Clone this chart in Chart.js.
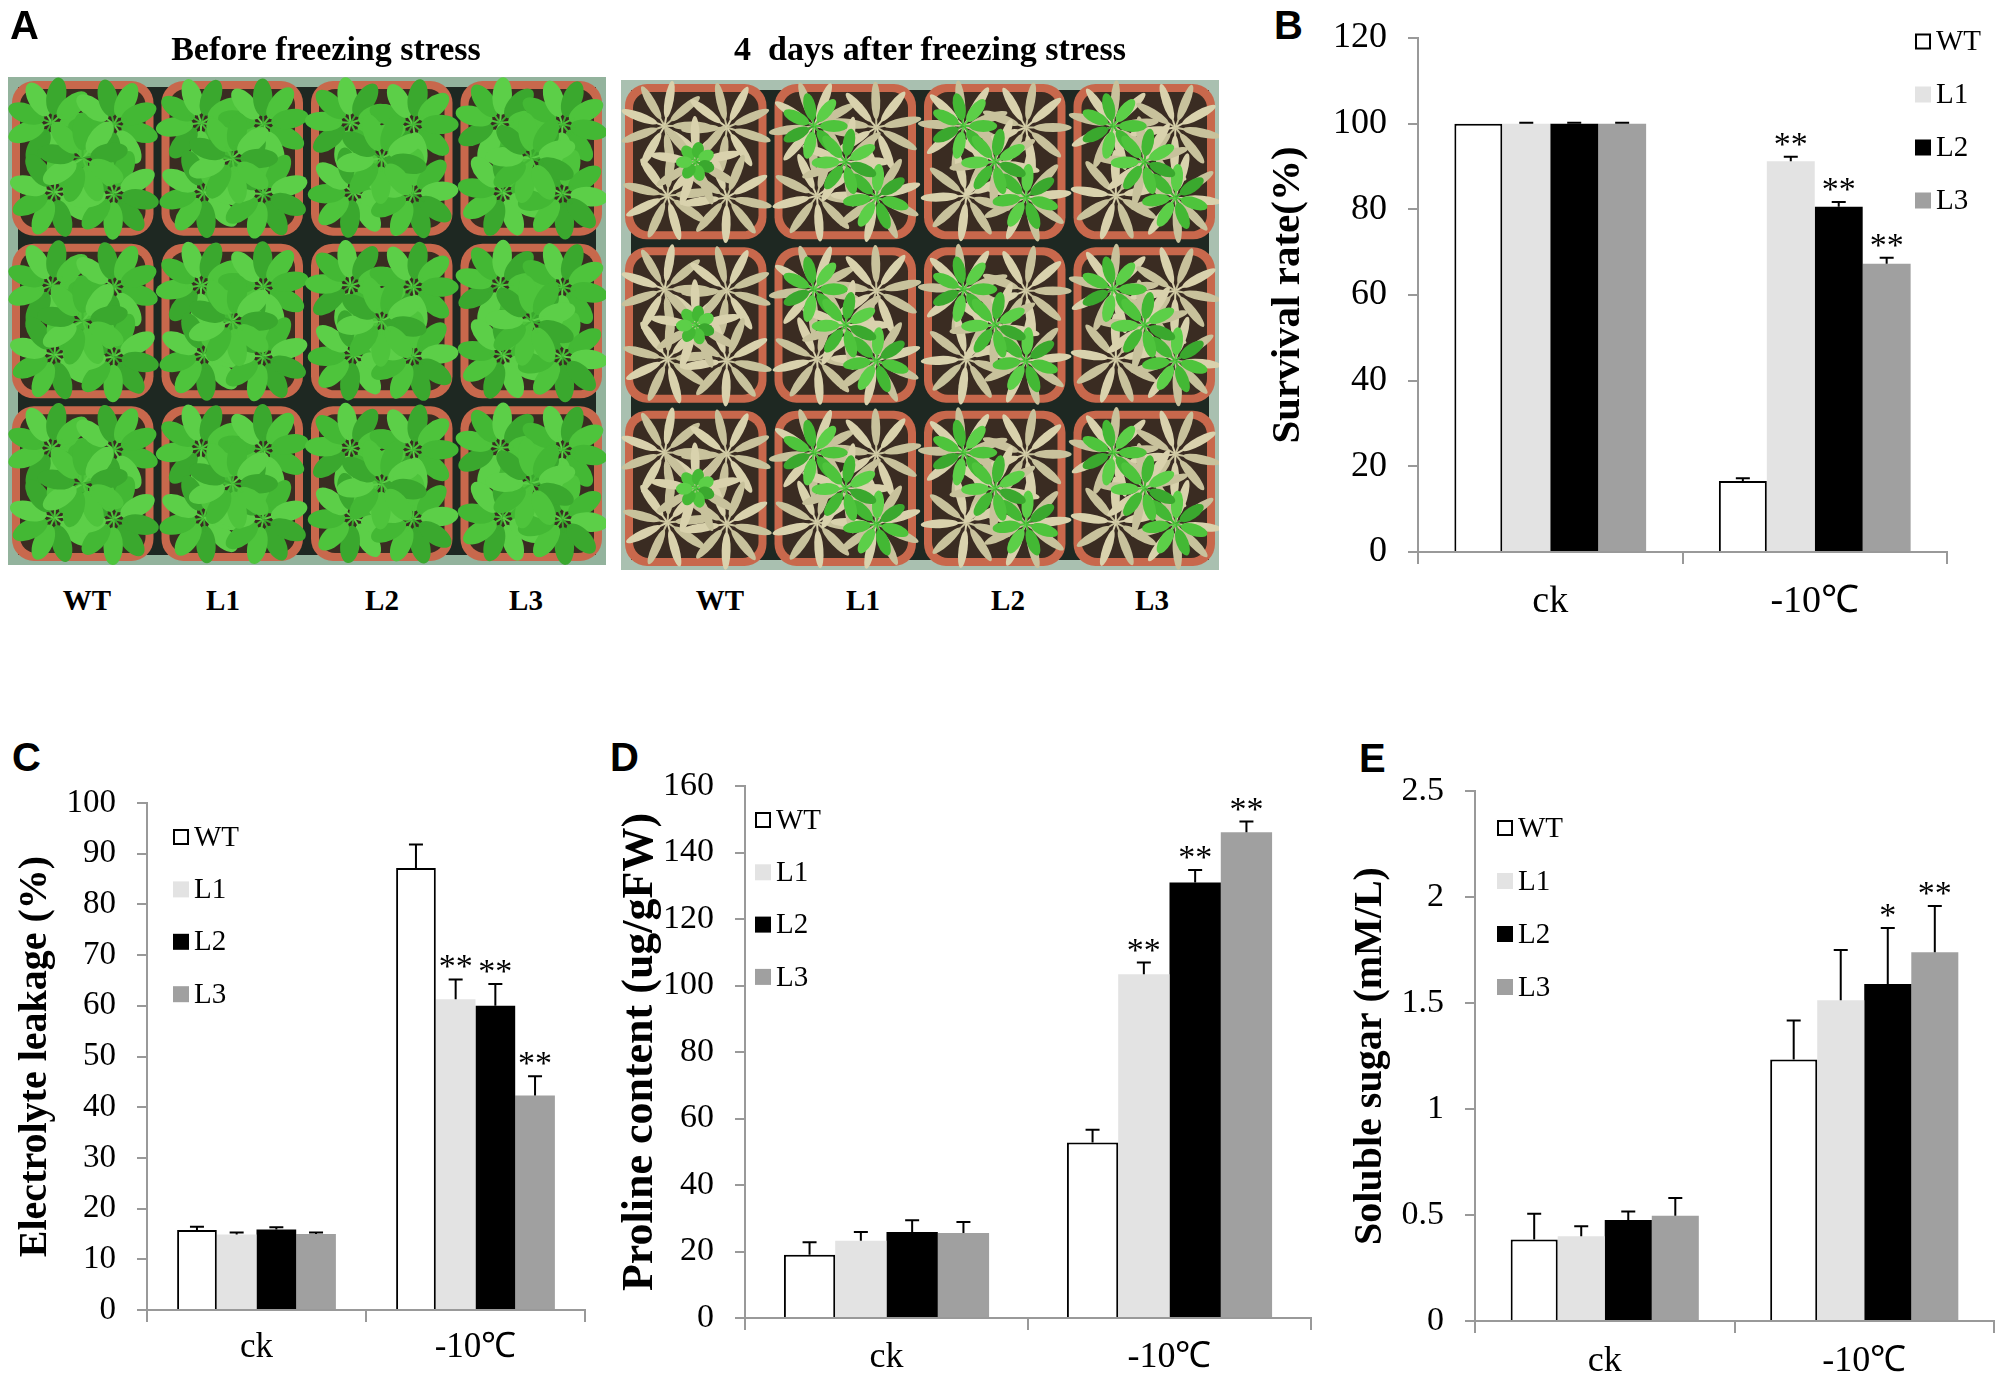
<!DOCTYPE html>
<html>
<head>
<meta charset="utf-8">
<script src="https://cdn.jsdelivr.net/npm/chart.js@4.4.1/dist/chart.umd.min.js"></script>
<style>
    body { margin: 0; width: 2000px; height: 1383px; background: #fff; position: relative; overflow: hidden; }
    .txt { position: absolute; white-space: pre; line-height: 1; color: #000; }
    .serif { font-family: 'Liberation Serif', 'Times New Roman', serif; font-weight: bold; }
    .letter { font-family: 'Liberation Sans', Arial, sans-serif; font-weight: bold; font-size: 40px; }
</style>
</head>
<body>
<canvas id="photos" width="1230" height="580" style="position:absolute;left:0;top:0;"></canvas>

<div class="txt letter" style="left:10px;top:5px;">A</div>
<div class="txt letter" style="left:1274px;top:5px;">B</div>
<div class="txt letter" style="left:12px;top:737px;">C</div>
<div class="txt letter" style="left:610px;top:737px;">D</div>
<div class="txt letter" style="left:1359px;top:738px;">E</div>

<div class="txt serif" style="left:26px;width:600px;text-align:center;top:32px;font-size:34px;">Before freezing stress</div>
<div class="txt serif" style="left:630px;width:600px;text-align:center;top:32px;font-size:34px;">4  days after freezing stress</div>
<div id="photoLabels"></div>

<script>
// ===============================
// DATA
// ===============================
const groups = ["ck", "-10℃"];
const lines = ["WT", "L1", "L2", "L3"];

// B - survival rate (%)
const survWT = [100, 16.6];
const survL1 = [100, 91.2];
const survL2 = [100, 80.6];
const survL3 = [100, 67.3];
const survErrWT = [0, 0.6];
const survErrL1 = [0.2, 1.1];
const survErrL2 = [0.2, 1.1];
const survErrL3 = [0.2, 1.4];
const survStars = ["", "**", "**", "**"];

// C - electrolyte leakage (%)
const elWT = [15.8, 87.2];
const elL1 = [14.9, 61.3];
const elL2 = [15.9, 60.0];
const elL3 = [15.0, 42.3];
const elErrWT = [0.6, 4.6];
const elErrL1 = [0.4, 3.9];
const elErrL2 = [0.4, 4.3];
const elErrL3 = [0.3, 3.8];
const elStars = ["", "**", "**", "**"];

// D - proline content (ug/gFW)
const prWT = [19.0, 52.8];
const prL1 = [23.2, 103.4];
const prL2 = [25.9, 131.0];
const prL3 = [25.6, 146.1];
const prErrWT = [3.8, 3.8];
const prErrL1 = [2.7, 3.5];
const prErrL2 = [3.5, 3.7];
const prErrL3 = [3.3, 3.2];
const prStars = ["", "**", "**", "**"];

// E - soluble sugar (mM/L)
const suWT = [0.384, 1.234];
const suL1 = [0.40, 1.513];
const suL2 = [0.476, 1.59];
const suL3 = [0.496, 1.739];
const suErrWT = [0.122, 0.183];
const suErrL1 = [0.047, 0.237];
const suErrL2 = [0.04, 0.264];
const suErrL3 = [0.084, 0.219];
const suStars = ["", "", "*", "**"];

// ===============================
// STYLE
// ===============================
const SERIF = "'Liberation Serif', 'Times New Roman', serif";
const lineFill = ["#ffffff", "#e3e3e3", "#000000", "#a0a0a0"];
const AXIS_GREY = "#999999";
const PAD_TOP = 45;
const X_AXIS_H = 90;

Chart.defaults.font.family = SERIF;
Chart.defaults.color = "#000";

// ===============================
// PLUGINS
// ===============================
const barExtras = {
    id: "barExtras",
    afterDatasetsDraw(chart, args, opts) {
        const ctx = chart.ctx;
        const yScale = chart.scales.y;
        chart.data.datasets.forEach((ds, i) => {
            const meta = chart.getDatasetMeta(i);
            meta.data.forEach((bar, j) => {
                const err = opts.errors[i][j];
                const capY = yScale.getPixelForValue(ds.data[j] + err);
                ctx.save();
                ctx.strokeStyle = "#000";
                ctx.lineWidth = 2;
                if (err > 0) {
                    ctx.beginPath();
                    ctx.moveTo(bar.x, bar.y);
                    ctx.lineTo(bar.x, capY);
                    ctx.moveTo(bar.x - 7, capY);
                    ctx.lineTo(bar.x + 7, capY);
                    ctx.stroke();
                }
                const star = j === 1 ? opts.stars[i] : "";
                if (star) {
                    ctx.fillStyle = "#000";
                    ctx.font = "34px " + SERIF;
                    ctx.textAlign = "center";
                    ctx.textBaseline = "alphabetic";
                    ctx.fillText(star, bar.x, capY - 2);
                }
                ctx.restore();
            });
        });
    }
};

const boxLegend = {
    id: "boxLegend",
    afterDraw(chart, args, opts) {
        const ctx = chart.ctx;
        ctx.save();
        ctx.font = opts.size + "px " + SERIF;
        ctx.textBaseline = "middle";
        ctx.textAlign = "left";
        chart.data.datasets.forEach((ds, i) => {
            const cy = opts.y + i * opts.gap;
            const b = opts.box;
            ctx.fillStyle = ds.backgroundColor;
            ctx.fillRect(opts.x, cy - b / 2, b, b);
            if (i === 0) {
                ctx.strokeStyle = "#000";
                ctx.lineWidth = 2;
                ctx.strokeRect(opts.x + 1, cy - b / 2 + 1, b - 2, b - 2);
            }
            ctx.fillStyle = "#000";
            ctx.fillText(ds.label, opts.x + b + 5, cy + 1);
        });
        ctx.restore();
    }
};

// ===============================
// PANEL BUILDER
// ===============================
function buildPanel(p) {
    const left = p.axisX - p.yAxisW;
    const top = p.yTop - PAD_TOP;
    const width = p.yAxisW + (p.xEnd - p.axisX) + p.padRight;
    const height = PAD_TOP + (p.y0 - p.yTop) + X_AXIS_H;

    const canvas = document.createElement("canvas");
    canvas.width = width;
    canvas.height = height;
    canvas.style.cssText = `position:absolute;left:${left}px;top:${top}px;width:${width}px;height:${height}px;`;
    document.body.appendChild(canvas);

    const datasets = p.series.map((values, i) => ({
        label: lines[i],
        data: values,
        backgroundColor: lineFill[i],
        borderColor: "#000",
        borderWidth: i === 0 ? 2 : 0,
        barPercentage: 1,
        categoryPercentage: 0.725
    }));

    new Chart(canvas, {
        type: "bar",
        data: { labels: groups, datasets: datasets },
        plugins: [barExtras, boxLegend],
        options: {
            responsive: false,
            animation: false,
            devicePixelRatio: 1,
            layout: { padding: { top: PAD_TOP, right: p.padRight, left: 0, bottom: 0 } },
            plugins: {
                legend: { display: false },
                tooltip: { enabled: false },
                barExtras: { errors: p.errors, stars: p.stars },
                boxLegend: {
                    x: p.legend.x - left,
                    y: p.legend.y - top,
                    gap: p.legend.gap,
                    box: 16,
                    size: 29
                }
            },
            scales: {
                x: {
                    offset: true,
                    grid: { offset: true, drawOnChartArea: false, tickLength: 12, color: AXIS_GREY, lineWidth: 2 },
                    border: { color: AXIS_GREY, width: 2 },
                    ticks: { font: { size: p.catSize }, color: "#000", padding: p.catDrop - 12 - 0.67 * p.catSize },
                    afterFit(scale) { scale.height = X_AXIS_H; }
                },
                y: {
                    min: 0,
                    max: p.max,
                    ticks: {
                        stepSize: p.step,
                        font: { size: p.tickSize },
                        color: "#000",
                        padding: 21,
                        callback: v => String(v)
                    },
                    grid: { drawOnChartArea: false, tickLength: 10, color: AXIS_GREY, lineWidth: 2 },
                    border: { color: AXIS_GREY, width: 2 },
                    title: {
                        display: true,
                        text: p.title,
                        color: "#000",
                        font: { size: p.titleSize, weight: "bold" },
                        padding: { top: p.yAxisW - p.titleOff - 0.6 * p.titleSize, bottom: 0 }
                    },
                    afterFit(scale) { scale.width = p.yAxisW; }
                }
            }
        }
    });
}

// ===============================
// PANEL A (photographs, drawn as a sketch)
// ===============================
function potPath(ctx, x, y, w, h, r) {
    ctx.beginPath();
    ctx.moveTo(x + r, y);
    ctx.arcTo(x + w, y, x + w, y + h, r);
    ctx.arcTo(x + w, y + h, x, y + h, r);
    ctx.arcTo(x, y + h, x, y, r);
    ctx.arcTo(x, y, x + w, y, r);
    ctx.closePath();
}

function leaf(ctx, cx, cy, angle, len, wid, color) {
    ctx.save();
    ctx.translate(cx, cy);
    ctx.rotate(angle);
    ctx.fillStyle = color;
    ctx.beginPath();
    ctx.ellipse(len * 0.6, 0, len * 0.42, wid / 2, 0, 0, Math.PI * 2);
    ctx.fill();
    ctx.strokeStyle = color;
    ctx.lineWidth = 2;
    ctx.beginPath();
    ctx.moveTo(0, 0);
    ctx.lineTo(len * 0.3, 0);
    ctx.stroke();
    ctx.restore();
}

function drawTray(ctx, x0, y0, w, h, stressed) {
    ctx.save();
    ctx.beginPath();
    ctx.rect(x0, y0, w, h);
    ctx.clip();
    ctx.fillStyle = stressed ? "#a9c0b0" : "#93b39d";
    ctx.fillRect(x0, y0, w, h);
    ctx.fillStyle = "#1e2822";
    ctx.fillRect(x0 + 10, y0 + 10, w - 20, h - 20);

    const pw = w / 4, ph = h / 3;
    const greens = ["#4ec43c", "#43b834", "#5ccf48", "#3aa82e"];
    const spots = [[0.28, 0.27], [0.72, 0.28], [0.3, 0.72], [0.72, 0.73], [0.5, 0.5]];
    for (let r = 0; r < 3; r++) {
        for (let c = 0; c < 4; c++) {
            const px = x0 + c * pw + 4, py = y0 + r * ph + 4;
            potPath(ctx, px, py, pw - 8, ph - 8, 22);
            ctx.fillStyle = "#c8684c";
            ctx.fill();
            potPath(ctx, px + 8, py + 8, pw - 24, ph - 24, 16);
            ctx.fillStyle = "#3a2c22";
            ctx.fill();

            spots.forEach((s, k) => {
                const cx = px + s[0] * (pw - 8), cy = py + s[1] * (ph - 8);
                for (let n = 0; n < 9; n++) {
                    const a = n * Math.PI * 2 / 9 + k * 0.3 + c * 0.2;
                    if (stressed) {
                        leaf(ctx, cx, cy, a, pw * 0.3, pw * 0.06, n % 2 ? "#d9d2ad" : "#c8c29c");
                    } else {
                        leaf(ctx, cx, cy, a, pw * 0.3, pw * 0.13, greens[(n + k) % 4]);
                    }
                }
            });

            if (stressed) {
                const alive = c === 0 ? [4] : [0, 3, 4];
                const size = c === 0 ? 0.13 : 0.22;
                alive.forEach(k => {
                    const cx = px + spots[k][0] * (pw - 8), cy = py + spots[k][1] * (ph - 8);
                    for (let n = 0; n < 7; n++) {
                        leaf(ctx, cx, cy, n * Math.PI * 2 / 7 + k, pw * size, pw * 0.08, greens[n % 4]);
                    }
                });
            }
        }
    }
    ctx.restore();
}

function drawPanelA() {
    const ctx = document.getElementById("photos").getContext("2d");
    drawTray(ctx, 8, 77, 598, 488, false);
    drawTray(ctx, 621, 80, 598, 490, true);

    const holder = document.getElementById("photoLabels");
    const centers = [87, 223, 382, 526, 720, 863, 1008, 1152];
    centers.forEach((cx, i) => {
        const d = document.createElement("div");
        d.className = "txt serif";
        d.style.cssText = `left:${cx - 50}px;width:100px;text-align:center;top:586px;font-size:29px;`;
        d.textContent = lines[i % 4];
        holder.appendChild(d);
    });
}

// ===============================
// BUILD
// ===============================
function buildAll() {
    drawPanelA();

    buildPanel({
        title: "Survival rate(%)",
        series: [survWT, survL1, survL2, survL3],
        errors: [survErrWT, survErrL1, survErrL2, survErrL3],
        stars: survStars,
        max: 120, step: 20,
        axisX: 1418, yTop: 37.5, y0: 552, xEnd: 1947,
        yAxisW: 170, titleOff: 130, titleSize: 41,
        tickSize: 36, catSize: 38, catDrop: 53, padRight: 52,
        legend: { x: 1915, y: 41, gap: 53 }
    });

    buildPanel({
        title: "Electrolyte leakage (%)",
        series: [elWT, elL1, elL2, elL3],
        errors: [elErrWT, elErrL1, elErrL2, elErrL3],
        stars: elStars,
        max: 100, step: 10,
        axisX: 147, yTop: 803, y0: 1310, xEnd: 585,
        yAxisW: 140, titleOff: 111, titleSize: 40,
        tickSize: 33, catSize: 35, catDrop: 40, padRight: 15,
        legend: { x: 173, y: 837, gap: 52.4 }
    });

    buildPanel({
        title: "Proline content (ug/gFW)",
        series: [prWT, prL1, prL2, prL3],
        errors: [prErrWT, prErrL1, prErrL2, prErrL3],
        stars: prStars,
        max: 160, step: 20,
        axisX: 745, yTop: 786, y0: 1318, xEnd: 1311,
        yAxisW: 140, titleOff: 104, titleSize: 44,
        tickSize: 34, catSize: 36, catDrop: 42, padRight: 15,
        legend: { x: 755, y: 820, gap: 52.3 }
    });

    buildPanel({
        title: "Soluble sugar (mM/L)",
        series: [suWT, suL1, suL2, suL3],
        errors: [suErrWT, suErrL1, suErrL2, suErrL3],
        stars: suStars,
        max: 2.5, step: 0.5,
        axisX: 1475, yTop: 791, y0: 1321, xEnd: 1994,
        yAxisW: 150, titleOff: 104, titleSize: 40,
        tickSize: 34, catSize: 36, catDrop: 43, padRight: 5,
        legend: { x: 1497, y: 828, gap: 53 }
    });
}

document.addEventListener("DOMContentLoaded", () => {
    Promise.all([
        document.fonts.load("36px 'Liberation Serif'"),
        document.fonts.load("bold 36px 'Liberation Serif'"),
        document.fonts.load("36px 'Liberation Serif'", "℃")
    ]).catch(() => null).then(buildAll);
});
</script>
</body>
</html>
